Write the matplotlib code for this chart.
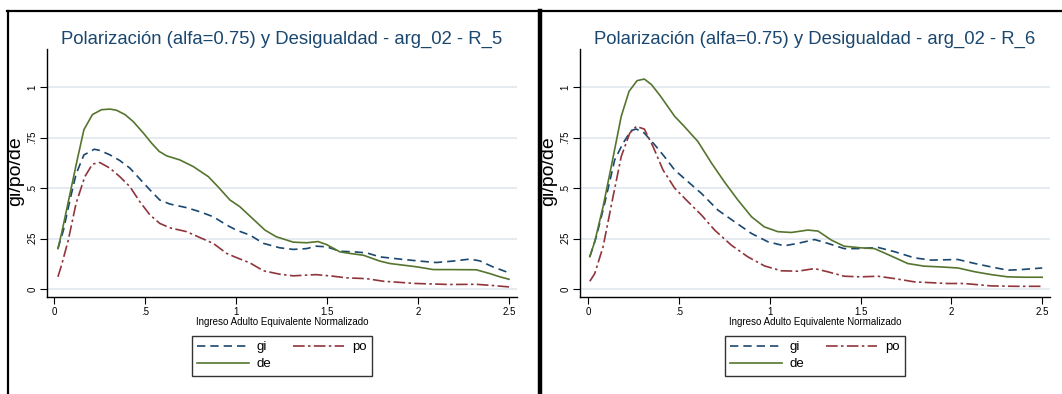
import matplotlib.pyplot as plt
from matplotlib.lines import Line2D

plt.rcParams['font.family'] = ['Liberation Sans', 'DejaVu Sans']

# panel R_5
r5_de_x = [0.02, 0.04, 0.086, 0.126, 0.163, 0.21, 0.26, 0.306, 0.343, 0.39, 0.434, 0.49, 0.535, 0.577,
           0.618, 0.69, 0.764, 0.847, 0.90, 0.966, 1.02, 1.076, 1.158, 1.22, 1.314, 1.387, 1.45, 1.497,
           1.57, 1.626, 1.70, 1.79, 1.846, 1.99, 2.084, 2.176, 2.32, 2.395, 2.45, 2.5]
r5_de_y = [0.20, 0.275, 0.47, 0.64, 0.79, 0.865, 0.889, 0.892, 0.886, 0.864, 0.83, 0.773, 0.723, 0.682,
           0.66, 0.64, 0.607, 0.557, 0.507, 0.441, 0.408, 0.361, 0.292, 0.259, 0.232, 0.229, 0.235, 0.22,
           0.184, 0.176, 0.167, 0.138, 0.126, 0.11, 0.096, 0.096, 0.095, 0.076, 0.06, 0.048]
r5_gi_x = [0.02, 0.05, 0.086, 0.12, 0.163, 0.196, 0.22, 0.25, 0.306, 0.36, 0.416, 0.47, 0.526, 0.58,
           0.636, 0.728, 0.8, 0.874, 0.948, 1.0, 1.076, 1.15, 1.24, 1.314, 1.387, 1.44, 1.497, 1.57,
           1.644, 1.717, 1.79, 1.9, 2.01, 2.1, 2.19, 2.285, 2.34, 2.41, 2.5]
r5_gi_y = [0.20, 0.29, 0.44, 0.57, 0.665, 0.68, 0.693, 0.687, 0.665, 0.637, 0.599, 0.546, 0.491, 0.441,
           0.421, 0.403, 0.383, 0.358, 0.317, 0.292, 0.267, 0.226, 0.204, 0.196, 0.20, 0.212, 0.209, 0.187,
           0.184, 0.179, 0.159, 0.148, 0.138, 0.131, 0.138, 0.148, 0.139, 0.11, 0.08]
r5_po_x = [0.02, 0.04, 0.077, 0.12, 0.168, 0.21, 0.25, 0.306, 0.36, 0.416, 0.47, 0.526, 0.58, 0.636,
           0.728, 0.8, 0.874, 0.948, 1.0, 1.076, 1.15, 1.24, 1.314, 1.44, 1.534, 1.607, 1.717, 1.81,
           1.99, 2.176, 2.32, 2.41, 2.5]
r5_po_y = [0.06, 0.118, 0.242, 0.425, 0.557, 0.619, 0.627, 0.599, 0.557, 0.507, 0.433, 0.367, 0.325, 0.303,
           0.284, 0.255, 0.226, 0.176, 0.156, 0.129, 0.09, 0.073, 0.065, 0.071, 0.063, 0.055, 0.051, 0.038,
           0.027, 0.022, 0.023, 0.017, 0.01]

# panel R_6
r6_de_x = [0.01, 0.037, 0.083, 0.128, 0.183, 0.226, 0.27, 0.31, 0.35, 0.40, 0.477, 0.53, 0.605, 0.68,
           0.75, 0.825, 0.90, 0.97, 1.045, 1.12, 1.21, 1.266, 1.34, 1.41, 1.5, 1.577, 1.67, 1.76, 1.85,
           1.944, 2.036, 2.13, 2.22, 2.31, 2.4, 2.5]
r6_de_y = [0.16, 0.234, 0.408, 0.607, 0.856, 0.98, 1.033, 1.041, 1.013, 0.955, 0.856, 0.806, 0.731, 0.624,
           0.532, 0.441, 0.358, 0.308, 0.284, 0.28, 0.292, 0.287, 0.242, 0.212, 0.204, 0.20, 0.163, 0.126,
           0.113, 0.109, 0.104, 0.085, 0.071, 0.06, 0.058, 0.058]
r6_gi_x = [0.01, 0.046, 0.092, 0.147, 0.193, 0.238, 0.266, 0.31, 0.367, 0.42, 0.477, 0.55, 0.624, 0.715,
           0.807, 0.9, 0.99, 1.08, 1.155, 1.247, 1.32, 1.41, 1.5, 1.596, 1.69, 1.797, 1.89, 2.036, 2.13,
           2.22, 2.31, 2.385, 2.5]
r6_gi_y = [0.16, 0.259, 0.425, 0.64, 0.723, 0.786, 0.793, 0.773, 0.715, 0.657, 0.59, 0.532, 0.474, 0.391,
           0.333, 0.275, 0.234, 0.214, 0.226, 0.245, 0.226, 0.20, 0.20, 0.206, 0.184, 0.154, 0.143, 0.146,
           0.126, 0.109, 0.093, 0.096, 0.104]
r6_po_x = [0.01, 0.037, 0.083, 0.138, 0.183, 0.23, 0.266, 0.31, 0.358, 0.413, 0.477, 0.55, 0.624, 0.697,
           0.789, 0.88, 0.972, 1.064, 1.155, 1.247, 1.32, 1.41, 1.5, 1.596, 1.69, 1.797, 1.98, 2.07, 2.22,
           2.35, 2.5]
r6_po_y = [0.038, 0.076, 0.209, 0.458, 0.657, 0.773, 0.806, 0.793, 0.706, 0.59, 0.5, 0.433, 0.367, 0.292,
           0.217, 0.159, 0.114, 0.09, 0.088, 0.101, 0.085, 0.063, 0.06, 0.063, 0.051, 0.035, 0.027, 0.027,
           0.015, 0.013, 0.013]

xticks = [0, 0.5, 1, 1.5, 2, 2.5]
xtick_labels = ['0', '.5', '1', '1.5', '2', '2.5']
yticks = [0, 0.25, 0.5, 0.75, 1]
ytick_labels = ['0', '.25', '.5', '.75', '1']

navy = '#1a476f'
maroon = '#90353b'
green = '#55752f'

W, H = 1062, 394
fig = plt.figure(figsize=(W / 100, H / 100), dpi=100)

panels = [
    ('R_5', 47, 517, -0.040, 2.544, (r5_gi_x, r5_gi_y), (r5_po_x, r5_po_y), (r5_de_x, r5_de_y)),
    ('R_6', 580, 1050, -0.044, 2.543, (r6_gi_x, r6_gi_y), (r6_po_x, r6_po_y), (r6_de_x, r6_de_y)),
]

for name, x0, x1, xmin, xmax, gi, po, de in panels:
    ax = fig.add_axes([x0 / W, 1 - 297 / H, (x1 - x0) / W, (297 - 49) / H])
    l_gi, = ax.plot(gi[0], gi[1], color=navy, lw=1.2, ls=(0, (5, 3)), label='gi')
    l_po, = ax.plot(po[0], po[1], color=maroon, lw=1.2, ls=(0, (7, 2, 1.5, 2)), label='po')
    l_de, = ax.plot(de[0], de[1], color=green, lw=1.2, label='de')
    ax.set_xlim(xmin, xmax)
    ax.set_ylim(-0.04, 1.19)
    ax.set_xticks(xticks)
    ax.set_xticklabels(xtick_labels, fontsize=7)
    ax.set_yticks(yticks)
    ax.set_yticklabels(ytick_labels, fontsize=7, rotation=90, va='center')
    ax.tick_params(direction='out', length=5, width=0.8, pad=2, color='black')
    ax.yaxis.grid(True, color='#e1e8ef', lw=1.2)
    ax.set_axisbelow(True)
    ax.spines['top'].set_visible(False)
    ax.spines['right'].set_visible(False)
    ax.spines['left'].set_linewidth(1.0)
    ax.spines['bottom'].set_linewidth(1.0)
    ax.set_title('Polarización (alfa=0.75) y Desigualdad - arg_02 - ' + name,
                 color=navy, fontsize=13.3, pad=4)
    ax.set_xlabel('Ingreso Adulto Equivalente Normalizado', fontsize=7, labelpad=0)
    fig.text((x0 - 31) / W, 1 - 171 / H, 'gi/po/de', rotation=90, fontsize=14,
             ha='center', va='center')
    # column-major fill: gi, de in col 1, po in col 2
    leg = ax.legend([l_gi, l_de, l_po], ['gi', 'de', 'po'], ncol=2, loc='upper center',
                    bbox_to_anchor=(0.5, -0.157), borderaxespad=0,
                    fontsize=9.5, frameon=True, fancybox=False, edgecolor='black',
                    handlelength=3.9, handletextpad=0.6, columnspacing=1.6,
                    borderpad=0.4, labelspacing=0.35)
    leg.get_frame().set_linewidth(1.0)

fig.add_artist(Line2D([7 / W, 1], [1 - 11 / H, 1 - 11 / H], color='black', lw=1.6))
fig.add_artist(Line2D([7.5 / W, 7.5 / W], [0, 1 - 11 / H], color='black', lw=1.6))
fig.add_artist(Line2D([540 / W, 540 / W], [0, 1 - 11 / H], color='black', lw=3.2))

fig.savefig('out.png', dpi=100)
